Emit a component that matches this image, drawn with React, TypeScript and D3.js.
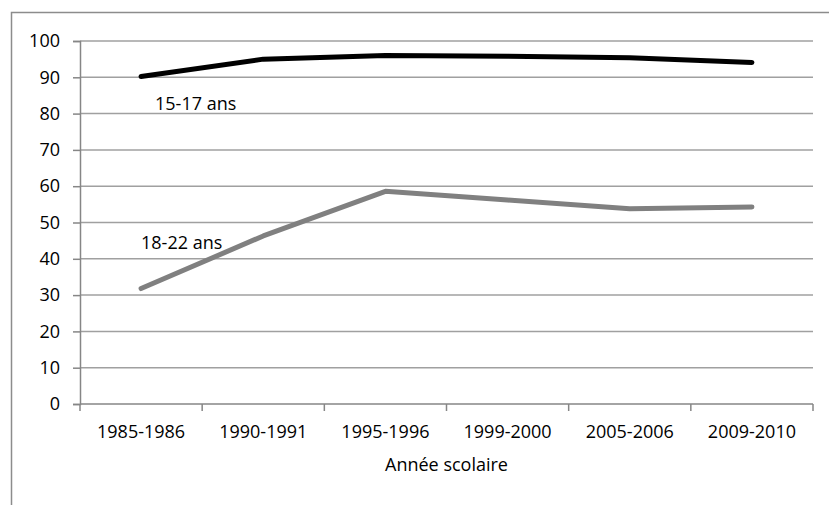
import React, { useEffect, useRef } from "react";
import * as d3 from "d3";

// Chart data
const categories = ["1985-1986", "1990-1991", "1995-1996", "1999-2000", "2005-2006", "2009-2010"];
const ages1517 = [90.2, 95.0, 96.0, 95.8, 95.4, 94.1];
const ages1822 = [31.8, 46.3, 58.6, 56.2, 53.8, 54.3];
const yTicks = [0, 10, 20, 30, 40, 50, 60, 70, 80, 90, 100];

const W = 829;
const H = 505;
const FONT = "'Open Sans', 'Noto Sans', sans-serif";
const FS = 18;

const App: React.FC = () => {
  const svgRef = useRef<SVGSVGElement | null>(null);

  useEffect(() => {
    const svg = d3.select(svgRef.current);
    svg.selectAll("*").remove();

    // outer chart frame (partially visible)
    svg
      .append("rect")
      .attr("x", 11.5)
      .attr("y", 12.5)
      .attr("width", W + 20)
      .attr("height", H + 20)
      .attr("fill", "white")
      .attr("stroke", "#8c8c8c")
      .attr("stroke-width", 1.5);

    const left = 80;
    const right = 813;
    const top = 41;
    const bottom = 404;

    const x = d3.scaleBand().domain(categories).range([left, right]);
    const y = d3.scaleLinear().domain([0, 100]).range([bottom, top]);

    // horizontal gridlines
    svg
      .append("g")
      .selectAll("line")
      .data(yTicks.filter((t) => t > 0))
      .enter()
      .append("line")
      .attr("x1", left)
      .attr("x2", right)
      .attr("y1", (d) => y(d))
      .attr("y2", (d) => y(d))
      .attr("stroke", "#a0a0a0")
      .attr("stroke-width", 1.5);

    // y axis
    const yAxis = svg
      .append("g")
      .attr("transform", `translate(${left},0)`)
      .call(d3.axisLeft(y).tickValues(yTicks).tickSize(7).tickPadding(13));
    yAxis.select(".domain").attr("stroke", "#868686").attr("stroke-width", 1.5);
    yAxis.selectAll(".tick line").attr("stroke", "#868686").attr("stroke-width", 1.5);
    yAxis
      .selectAll(".tick text")
      .attr("font-family", FONT)
      .attr("font-size", FS)
      .attr("fill", "#000");

    // x axis labels
    const xAxis = svg
      .append("g")
      .attr("transform", `translate(0,${bottom})`)
      .call(d3.axisBottom(x).tickSize(0));
    xAxis.select(".domain").remove();
    xAxis.selectAll(".tick line").remove();
    xAxis
      .selectAll(".tick text")
      .attr("y", 28)
      .attr("dy", "0.35em")
      .attr("font-family", FONT)
      .attr("font-size", FS)
      .attr("fill", "#000");

    svg
      .append("line")
      .attr("x1", left)
      .attr("x2", right)
      .attr("y1", bottom)
      .attr("y2", bottom)
      .attr("stroke", "#868686")
      .attr("stroke-width", 1.5);

    // category boundary ticks
    const bounds = categories.map((c) => x(c) as number).concat([right]);
    svg
      .append("g")
      .selectAll("line")
      .data(bounds)
      .enter()
      .append("line")
      .attr("x1", (d) => d)
      .attr("x2", (d) => d)
      .attr("y1", bottom)
      .attr("y2", bottom + 7)
      .attr("stroke", "#868686")
      .attr("stroke-width", 1.5);

    const cx = (c: string) => (x(c) as number) + x.bandwidth() / 2;

    const line = d3
      .line<number>()
      .x((_, i) => cx(categories[i]))
      .y((d) => y(d));

    svg
      .append("path")
      .datum(ages1822)
      .attr("d", line)
      .attr("fill", "none")
      .attr("stroke", "#808080")
      .attr("stroke-width", 5)
      .attr("stroke-linecap", "round")
      .attr("stroke-linejoin", "round");

    svg
      .append("path")
      .datum(ages1517)
      .attr("d", line)
      .attr("fill", "none")
      .attr("stroke", "#000")
      .attr("stroke-width", 5)
      .attr("stroke-linecap", "round")
      .attr("stroke-linejoin", "round");

    // series labels
    svg
      .append("text")
      .attr("x", 155)
      .attr("y", 110)
      .attr("font-family", FONT)
      .attr("font-size", FS)
      .text("15-17 ans");

    svg
      .append("text")
      .attr("x", 141)
      .attr("y", 249)
      .attr("font-family", FONT)
      .attr("font-size", FS)
      .text("18-22 ans");

    // axis title
    svg
      .append("text")
      .attr("x", (left + right) / 2)
      .attr("y", 465)
      .attr("dy", "0.35em")
      .attr("text-anchor", "middle")
      .attr("font-family", FONT)
      .attr("font-size", FS)
      .text("Année scolaire");
  }, []);

  return (
    <svg
      ref={svgRef}
      width={W}
      height={H}
      style={{ position: "absolute", left: 0, top: 0, background: "white" }}
    />
  );
};

export default App;
